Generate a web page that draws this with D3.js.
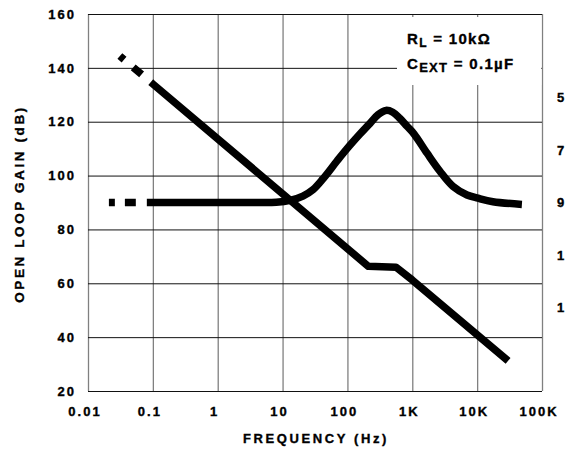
<!DOCTYPE html>
<html>
<head>
<meta charset="utf-8">
<script src="https://cdn.jsdelivr.net/npm/d3@7"></script>
<style>
  html, body { margin: 0; padding: 0; background: #fff; }
  svg { display: block; }
  text { font-family: "Liberation Sans", Arial, Helvetica, sans-serif; font-weight: bold; fill: #000; stroke: #000; stroke-width: 0.35px; }
</style>
</head>
<body>
<svg id="chart" width="567" height="449"></svg>
<script>
// ---- data ----
const xTicks = [0.01, 0.1, 1, 10, 100, 1000, 10000, 100000];
const xTickLabels = ["0.01", "0.1", "1", "10", "100", "1K", "10K", "100K"];
const yTicks = [20, 40, 60, 80, 100, 120, 140, 160];
const rightTicks = [50, 70, 90, 110, 130];
const rightTickLabels = ["5", "7", "9", "1", "1"];

const gainFreq = [0.031, 0.1, 210, 560, 1000, 30000];
const gainDb   = [144.4, 134, 66.3, 66, 61.2, 31.2];

const phaseFreq = [0.021, 0.05, 0.2, 1, 4, 8, 13, 20.6, 29.5, 42, 69, 98, 156, 223, 296, 393, 500, 640, 830, 1060, 1690, 2670, 4240, 6980, 10300, 17500, 49000];
const phaseDb   = [90, 90, 90, 90, 90, 90.1, 90.8, 92.4, 94.8, 98.8, 105.4, 109.9, 115.4, 119.4, 122.6, 124.2, 123.5, 121.3, 118.3, 115.5, 108.3, 101.6, 96, 92.8, 91.6, 90.3, 89.3];

// ---- layout ----
const L = 88, R = 542, T = 14, B = 391;
const svg = d3.select("#chart");

const x = d3.scaleLog().domain([0.01, 100000]).range([L, R]);
const y = d3.scaleLinear().domain([20, 160]).range([B, T]);
const yr = d3.scaleLinear().domain([50, 130]).range([97.5, 307.5]);

// vertical grid (gray)
const gx = svg.append("g").attr("transform", `translate(0,${B})`)
  .call(d3.axisBottom(x).tickValues(xTicks).tickSize(-(B - T)).tickFormat(""));
gx.select(".domain").remove();
gx.selectAll("line").attr("stroke", "#808080").attr("stroke-width", 1.3);

// horizontal grid (black)
const gy = svg.append("g").attr("transform", `translate(${L},0)`)
  .call(d3.axisLeft(y).tickValues(yTicks).tickSize(-(R - L)).tickFormat(""));
gy.select(".domain").remove();
gy.selectAll("line").attr("stroke", "#111").attr("stroke-width", 1);

// annotation background box
svg.append("rect").attr("x", 397).attr("y", 17).attr("width", 144.3).attr("height", 68).attr("fill", "#fff");

// tick labels
svg.append("g").selectAll("text").data(yTicks).join("text")
  .attr("x", 76).attr("y", d => y(d)).attr("dy", "0.36em")
  .attr("text-anchor", "end").attr("font-size", 13).attr("letter-spacing", 2)
  .text(d => d);

svg.append("g").selectAll("text").data(xTicks).join("text")
  .attr("x", d => x(d) - 3).attr("y", 416)
  .attr("text-anchor", "middle").attr("font-size", 13).attr("letter-spacing", 2)
  .text((d, i) => xTickLabels[i]);

svg.append("g").selectAll("text").data(rightTicks).join("text")
  .attr("x", 557).attr("y", d => yr(d)).attr("dy", "0.36em")
  .attr("font-size", 13)
  .text((d, i) => rightTickLabels[i]);

// axis titles
svg.append("text").attr("x", 316).attr("y", 443).attr("text-anchor", "middle")
  .attr("font-size", 13).attr("letter-spacing", 2.6).text("FREQUENCY (Hz)");
svg.append("text").attr("transform", "translate(24,204) rotate(-90)").attr("text-anchor", "middle")
  .attr("font-size", 13.5).attr("letter-spacing", 2.6).text("OPEN LOOP GAIN (dB)");

// annotation
const a1 = svg.append("text").attr("x", 407).attr("y", 44).attr("font-size", 15).attr("letter-spacing", 1.3);
a1.append("tspan").text("R");
a1.append("tspan").attr("font-size", 12).attr("dy", 3).text("L");
a1.append("tspan").attr("dy", -3).text(" = 10kΩ");
const a2 = svg.append("text").attr("x", 407).attr("y", 69).attr("font-size", 15).attr("letter-spacing", 1.3);
a2.append("tspan").text("C");
a2.append("tspan").attr("font-size", 13).attr("dy", 3).text("EXT");
a2.append("tspan").attr("dy", -3).text(" = 0.1µF");

// curves
const gainData = gainFreq.map((f, i) => [f, gainDb[i]]);
const phaseData = phaseFreq.map((f, i) => [f, phaseDb[i]]);

svg.append("path").datum(gainData)
  .attr("d", d3.line().x(d => x(d[0])).y(d => y(d[1])))
  .attr("fill", "none").attr("stroke", "#000").attr("stroke-width", 7.5)
  .attr("stroke-linejoin", "round").attr("stroke-linecap", "butt")
  .attr("stroke-dasharray", "5.5,12,11,12,100000");

svg.append("path").datum(phaseData)
  .attr("d", d3.line().x(d => x(d[0])).y(d => y(d[1])).curve(d3.curveCatmullRom.alpha(0.5)))
  .attr("fill", "none").attr("stroke", "#000").attr("stroke-width", 7.5)
  .attr("stroke-linejoin", "round").attr("stroke-linecap", "butt")
  .attr("stroke-dasharray", "6,10,11,11,100000");
</script>
</body>
</html>
